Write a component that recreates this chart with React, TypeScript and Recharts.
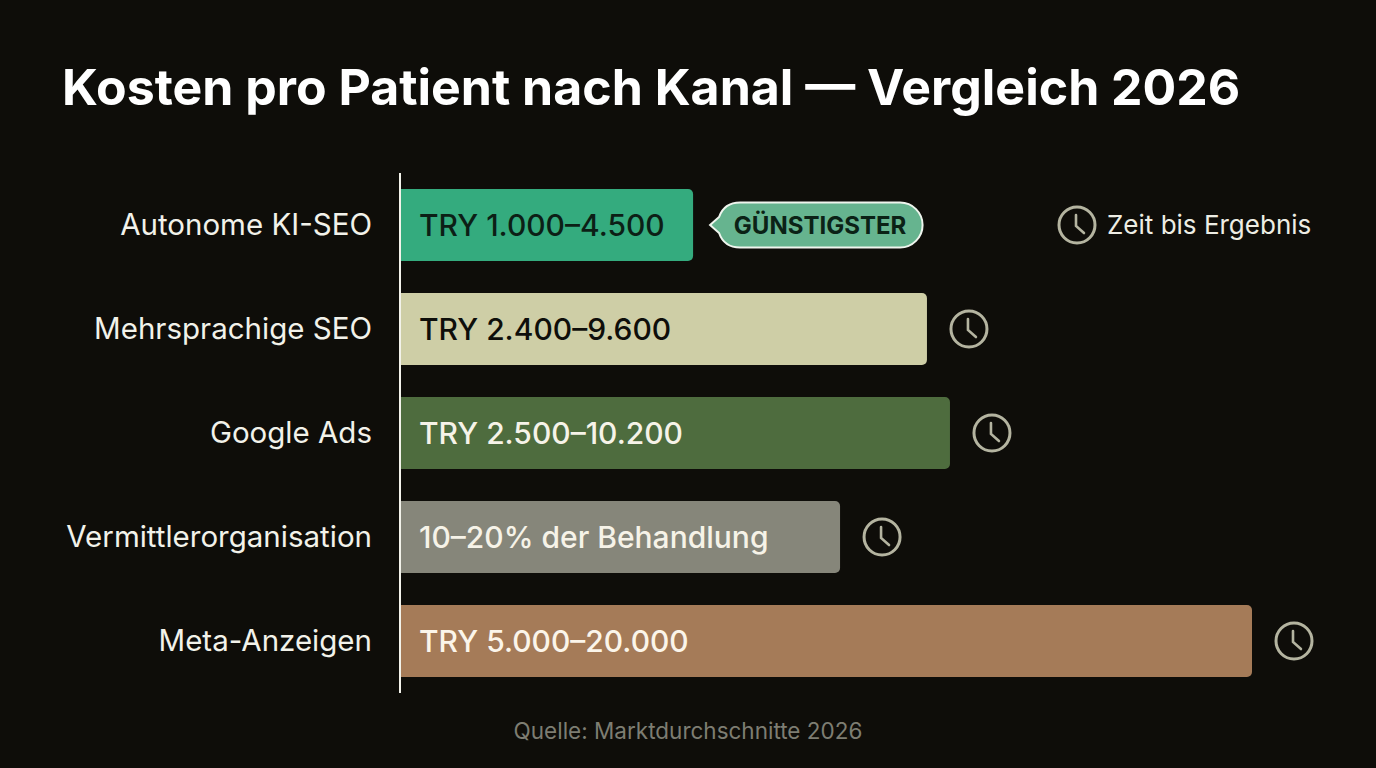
import React from "react";
import { BarChart, Bar, XAxis, YAxis, Cell, LabelList } from "recharts";

const categories = ["Autonome KI-SEO", "Mehrsprachige SEO", "Google Ads", "Vermittlerorganisation", "Meta-Anzeigen"];
// Bar lengths as drawn in the picture, on a scale where the longest bar is 20000
const barLengths = [6880, 12370, 12910, 10330, 20000];
const rangeLabels = ["TRY 1.000–4.500", "TRY 2.400–9.600", "TRY 2.500–10.200", "10–20% der Behandlung", "TRY 5.000–20.000"];
const barColors = ["#34AB7E", "#CECEA6", "#4E6C3E", "#86867A", "#A57B58"];
const textColors = ["#0C1F16", "#0E0E0A", "#F6F3E8", "#F6F3E8", "#FBF5EA"];

const data = categories.map((name, i) => ({ name, length: barLengths[i], label: rangeLabels[i] }));

const FONT = "Inter, 'Noto Sans', sans-serif";
const BG = "#0E0D09";

function Clock({ cx, cy }: { cx: number; cy: number }) {
  return (
    <g fill="none" stroke="#B4B4A0" strokeWidth={3} strokeLinecap="round">
      <circle cx={cx} cy={cy} r={18} />
      <path d={`M${cx - 1} ${cy - 10} L${cx - 1} ${cy + 1} L${cx + 7} ${cy + 8}`} strokeWidth={2.6} fill="none" />
    </g>
  );
}

function BarInside(props: any) {
  const { x, y, height, value, index } = props;
  return (
    <text x={x + 19} y={y + height / 2 + 11} fontFamily={FONT} fontSize={30} fontWeight={500} fill={textColors[index]}>
      {value}
    </text>
  );
}

function BarEnd(props: any) {
  const { x, y, width, height, index } = props;
  const cy = y + height / 2;
  const end = x + width;
  if (index === 0) {
    const l = end + 25;
    const r = end + 229;
    const t = cy - 22.5;
    const b = cy + 22.5;
    const rad = 22;
    const d = `M${l + rad} ${t} L${r - rad} ${t} A${rad} ${rad} 0 0 1 ${r - rad} ${b} L${l + rad} ${b}
      Q${l + 6} ${b} ${l + 1} ${cy + 8} L${l - 8} ${cy} L${l + 1} ${cy - 8} Q${l + 6} ${t} ${l + rad} ${t} Z`;
    return (
      <g>
        <path d={d} fill="#66B48F" stroke="#EFF5EE" strokeWidth={2} />
        <text x={(l + r) / 2} y={cy + 9} textAnchor="middle" fontFamily={FONT} fontSize={24} fontWeight={700} fill="#0B2216">
          GÜNSTIGSTER
        </text>
      </g>
    );
  }
  return <Clock cx={end + 42} cy={cy} />;
}

export default function App() {
  return (
    <div style={{ position: "absolute", left: 0, top: 0, width: 1376, height: 768, background: BG, overflow: "hidden" }}>
      <BarChart
        width={1376}
        height={768}
        data={data}
        layout="vertical"
        margin={{ top: 173, right: 124, bottom: 75, left: 0 }}
        barSize={72}
      >
        <XAxis type="number" domain={[0, 20000]} hide />
        <YAxis
          type="category"
          dataKey="name"
          width={400}
          interval={0}
          tickLine={false}
          tickMargin={22}
          axisLine={{ stroke: "#F2F2EA", strokeWidth: 2 }}
          tick={{ fill: "#F2F2EA", fontSize: 29.5, fontFamily: FONT, fontWeight: 400 }}
        />
        <Bar dataKey="length" radius={[0, 5, 5, 0]} isAnimationActive={false}>
          {data.map((d, i) => (
            <Cell key={d.name} fill={barColors[i]} />
          ))}
          <LabelList dataKey="label" content={BarInside} />
          <LabelList dataKey="label" content={BarEnd} />
        </Bar>
        <text x={62} y={105} fontFamily={FONT} fontSize={50} fontWeight={700} fill="#FFFFFF">
          Kosten pro Patient nach Kanal — Vergleich 2026
        </text>
        <Clock cx={1077} cy={225} />
        <text x={1107} y={234} fontFamily={FONT} fontSize={26} fill="#EDEDE4">
          Zeit bis Ergebnis
        </text>
        <text x={688} y={739} textAnchor="middle" fontFamily={FONT} fontSize={22.5} fill="#7D7D72">
          Quelle: Marktdurchschnitte 2026
        </text>
      </BarChart>
    </div>
  );
}
